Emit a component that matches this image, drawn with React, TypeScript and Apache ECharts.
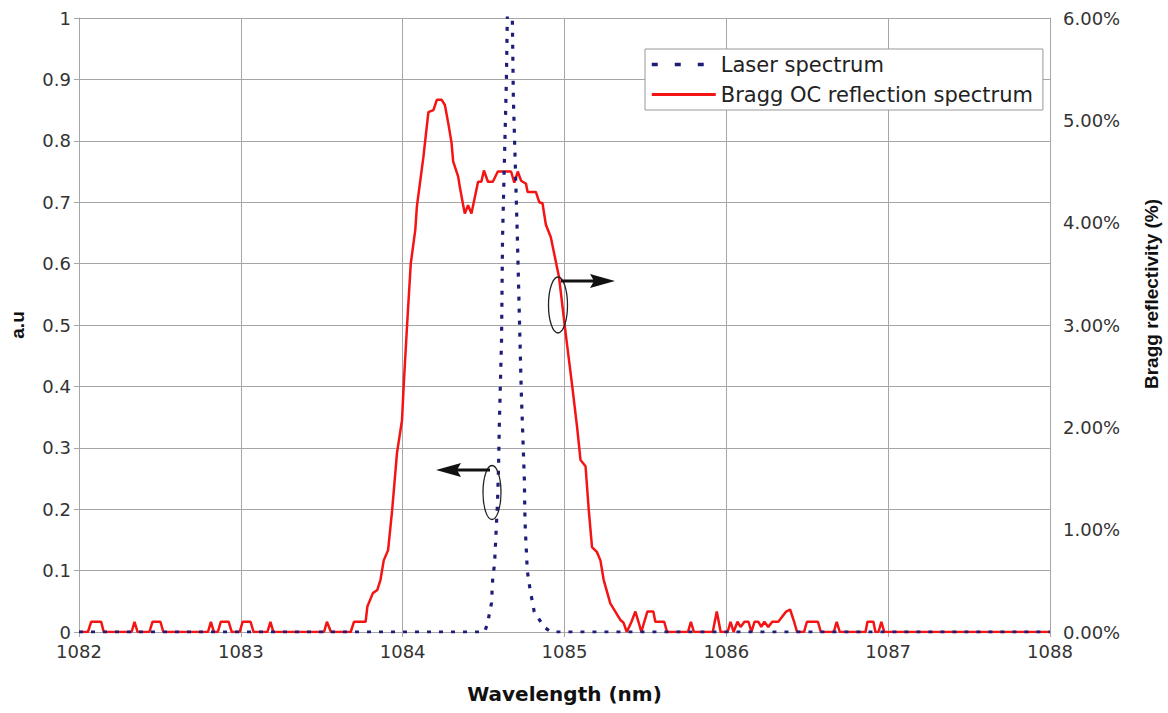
import React, { useEffect, useRef } from "react";
import * as echarts from "echarts";

// Wavelength (nm) / value pairs
const laserWavelength = [
  1082, 1084.5, 1084.507, 1084.525, 1084.549, 1084.556, 1084.568, 1084.574, 1084.58, 1084.586,
  1084.592, 1084.598, 1084.611, 1084.617, 1084.641, 1084.663, 1084.684, 1084.709, 1084.733,
  1084.752, 1084.755, 1084.758, 1084.764, 1084.77, 1084.788, 1084.813, 1084.874, 1084.917, 1088,
];
const laserValue = [
  0, 0, 0, 0.015, 0.047, 0.085, 0.112, 0.145, 0.178, 0.21,
  0.264, 0.345, 0.476, 0.64, 0.9, 1.3, 0.87, 0.64, 0.39,
  0.248, 0.194, 0.166, 0.134, 0.1, 0.068, 0.033, 0.008, 0, 0,
];

const braggWavelength = [
  1082.0, 1082.055, 1082.075, 1082.137, 1082.153, 1082.325, 1082.343, 1082.362, 1082.435, 1082.454,
  1082.503, 1082.521, 1082.797, 1082.815, 1082.834, 1082.858, 1082.876, 1082.925, 1082.944, 1082.993,
  1083.011, 1083.06, 1083.079, 1083.164, 1083.183, 1083.201, 1083.514, 1083.532, 1083.557, 1083.679,
  1083.699, 1083.771, 1083.782, 1083.816, 1083.843, 1083.863, 1083.883, 1083.91, 1083.935, 1083.965,
  1083.996, 1084.006, 1084.027, 1084.05, 1084.078, 1084.088, 1084.128, 1084.159, 1084.19, 1084.211,
  1084.241, 1084.261, 1084.282, 1084.302, 1084.312, 1084.343, 1084.353, 1084.374, 1084.384, 1084.404,
  1084.425, 1084.445, 1084.466, 1084.486, 1084.502, 1084.527, 1084.557, 1084.588, 1084.67, 1084.69,
  1084.711, 1084.732, 1084.762, 1084.772, 1084.823, 1084.844, 1084.864, 1084.885, 1084.915, 1084.966,
  1085.007, 1085.048, 1085.078, 1085.099, 1085.13, 1085.15, 1085.17, 1085.201, 1085.222, 1085.242,
  1085.283, 1085.314, 1085.344, 1085.365, 1085.385, 1085.414, 1085.438, 1085.457, 1085.475, 1085.493,
  1085.512, 1085.549, 1085.561, 1085.616, 1085.634, 1085.763, 1085.781, 1085.8, 1085.916, 1085.941,
  1085.965, 1086.008, 1086.026, 1086.045, 1086.069, 1086.088, 1086.112, 1086.137, 1086.155, 1086.174,
  1086.198, 1086.216, 1086.235, 1086.259, 1086.284, 1086.321, 1086.345, 1086.37, 1086.394, 1086.419,
  1086.437, 1086.48, 1086.498, 1086.566, 1086.584, 1086.664, 1086.682, 1086.701, 1086.86, 1086.872,
  1086.909, 1086.921, 1086.94, 1086.958, 1086.976, 1088.0,
];
const braggPercent = [
  0, 0, 0.1, 0.1, 0, 0, 0.1, 0, 0, 0.1,
  0.1, 0, 0, 0.1, 0, 0, 0.1, 0.1, 0, 0,
  0.1, 0.1, 0, 0, 0.1, 0, 0, 0.1, 0, 0,
  0.1, 0.1, 0.25, 0.38, 0.41, 0.51, 0.7, 0.8, 1.19, 1.75,
  2.07, 2.4, 2.99, 3.6, 3.93, 4.16, 4.64, 5.08, 5.1, 5.2,
  5.2, 5.15, 4.97, 4.78, 4.6, 4.45, 4.35, 4.17, 4.09, 4.17,
  4.09, 4.24, 4.4, 4.4, 4.51, 4.4, 4.4, 4.5, 4.5, 4.39,
  4.5, 4.41, 4.38, 4.3, 4.3, 4.2, 4.19, 3.98, 3.86, 3.47,
  2.92, 2.4, 2.0, 1.68, 1.62, 1.19, 0.83, 0.78, 0.7, 0.51,
  0.28, 0.2, 0.12, 0.09, 0, 0.1, 0.2, 0.1, 0, 0.1,
  0.2, 0.2, 0.1, 0.1, 0, 0, 0.1, 0, 0, 0.2,
  0, 0, 0.1, 0, 0.1, 0.05, 0.1, 0.1, 0, 0.1,
  0.1, 0.05, 0.1, 0.05, 0.1, 0.1, 0.15, 0.2, 0.22, 0.1,
  0, 0, 0.1, 0.1, 0, 0, 0.1, 0, 0, 0.1,
  0.1, 0, 0, 0.1, 0, 0,
];

const leftTicks = [0, 0.1, 0.2, 0.3, 0.4, 0.5, 0.6, 0.7, 0.8, 0.9, 1];

const LASER_NAME = "Laser spectrum";
const BRAGG_NAME = "Bragg OC reflection spectrum";
const X_TITLE = "Wavelength (nm)";
const Y_LEFT_TITLE = "a.u";
const Y_RIGHT_TITLE = "Bragg reflectivity (%)";

export default function App() {
  const ref = useRef<HTMLDivElement>(null);
  useEffect(() => {
    if (!ref.current) return;
    const chart = echarts.init(ref.current, undefined, { renderer: "svg" });
    const tickFont = { fontFamily: "DejaVu Sans", fontSize: 18, color: "#333" };
    const gridColor = "#a6a6a6";
    const red = "#f41414";
    const navy = "#1e1e78";
    chart.setOption({
      animation: false,
      backgroundColor: "#fff",
      grid: { left: 71, right: 118, top: 18, bottom: 81 },
      legend: {
        data: [
          { name: LASER_NAME, lineStyle: { type: [6, 17], width: 3.5 } },
          { name: BRAGG_NAME, lineStyle: { width: 3 } },
        ],
        orient: "vertical",
        left: 645,
        top: 49,
        padding: [5, 10, 5, 5],
        itemWidth: 64,
        itemHeight: 14,
        itemGap: 9,
        itemStyle: { opacity: 0 },
        backgroundColor: "#fff",
        borderColor: "#999",
        borderWidth: 1,
        borderRadius: 0,
        textStyle: { fontFamily: "DejaVu Sans", fontSize: 21, color: "#222" },
      },
      xAxis: {
        type: "value",
        min: 1082,
        max: 1088,
        interval: 1,
        name: X_TITLE,
        nameLocation: "middle",
        nameGap: 52,
        nameTextStyle: { fontFamily: "DejaVu Sans", fontWeight: "bold", fontSize: 20, color: "#111" },
        axisLine: { show: true, lineStyle: { color: gridColor } },
        axisTick: { show: true, length: 5, lineStyle: { color: gridColor } },
        axisLabel: { ...tickFont, margin: 10, formatter: (v: number) => String(v) },
        splitLine: { show: true, lineStyle: { color: gridColor, width: 1 } },
      },
      yAxis: [
        {
          type: "value",
          min: 0,
          max: 1,
          interval: 0.1,
          position: "left",
          name: Y_LEFT_TITLE,
          nameLocation: "middle",
          nameRotate: 90,
          nameGap: 52,
          nameTextStyle: { fontFamily: "Liberation Sans", fontWeight: "bold", fontSize: 19, color: "#111" },
          axisLine: { show: true, lineStyle: { color: gridColor } },
          axisTick: { show: true, length: 5, lineStyle: { color: gridColor } },
          axisLabel: {
            ...tickFont,
            margin: 8,
            formatter: (v: number) => {
              const t = leftTicks.find((x) => Math.abs(x - v) < 1e-6);
              return t === undefined ? "" : String(t);
            },
          },
          splitLine: { show: true, lineStyle: { color: gridColor, width: 1 } },
        },
        {
          type: "value",
          min: 0,
          max: 6,
          interval: 1,
          position: "right",
          axisLine: { show: true, lineStyle: { color: gridColor } },
          axisTick: { show: false },
          axisLabel: { ...tickFont, margin: 13, formatter: (v: number) => v.toFixed(2) + "%" },
          splitLine: { show: false },
        },
      ],
      series: [
        {
          name: BRAGG_NAME,
          type: "line",
          yAxisIndex: 1,
          symbol: "none",
          clip: true,
          z: 2,
          lineStyle: { color: red, width: 2.5 },
          itemStyle: { color: red },
          data: braggWavelength.map((w, i) => [w, braggPercent[i]]),
        },
        {
          name: LASER_NAME,
          type: "line",
          yAxisIndex: 0,
          symbol: "none",
          clip: true,
          z: 3,
          lineStyle: { color: navy, width: 3.2, type: [4, 8], cap: "butt" },
          itemStyle: { color: navy },
          data: laserWavelength.map((w, i) => [w, laserValue[i]]),
        },
      ],
      graphic: [
        {
          type: "text",
          x: 1151,
          y: 294,
          rotation: Math.PI / 2,
          style: {
            text: Y_RIGHT_TITLE,
            fontFamily: "Liberation Sans",
            fontWeight: "bold",
            fontSize: 19,
            fill: "#111",
            align: "center",
            verticalAlign: "middle",
          },
        },
        {
          type: "ellipse",
          shape: { cx: 492, cy: 492.5, rx: 9, ry: 27 },
          style: { fill: "none", stroke: "#222", lineWidth: 1.3 },
          z: 10,
        },
        {
          type: "line",
          shape: { x1: 490, y1: 470, x2: 456, y2: 470 },
          style: { stroke: "#111", lineWidth: 3 },
          z: 10,
        },
        {
          type: "polygon",
          shape: { points: [[436, 470], [461, 463], [457, 470], [461, 477]] },
          style: { fill: "#111" },
          z: 10,
        },
        {
          type: "ellipse",
          shape: { cx: 558, cy: 305, rx: 9.5, ry: 28 },
          style: { fill: "none", stroke: "#222", lineWidth: 1.3 },
          z: 10,
        },
        {
          type: "line",
          shape: { x1: 561, y1: 281, x2: 595, y2: 281 },
          style: { stroke: "#111", lineWidth: 3 },
          z: 10,
        },
        {
          type: "polygon",
          shape: { points: [[615, 281], [590, 274], [594, 281], [590, 288]] },
          style: { fill: "#111" },
          z: 10,
        },
      ],
    });
    return () => chart.dispose();
  }, []);
  return (
    <div
      ref={ref}
      style={{ position: "fixed", left: 0, top: 0, width: 1168, height: 713, background: "#fff" }}
    />
  );
}
